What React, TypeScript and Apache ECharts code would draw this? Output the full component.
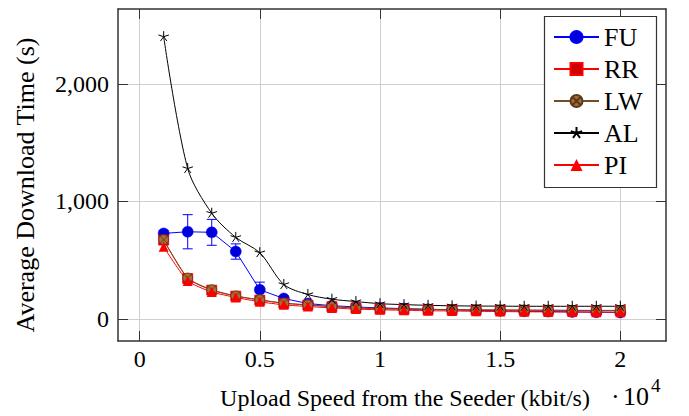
import React, { useEffect, useRef } from "react";
import * as echarts from "echarts";

const xValues = [1000, 2000, 3000, 4000, 5000, 6000, 7000, 8000, 9000, 10000, 11000, 12000, 13000, 14000, 15000, 16000, 17000, 18000, 19000, 20000];
const fuValues = [729, 743, 738, 575, 250, 176, 133, 115, 104, 96, 90, 84, 80, 76, 72, 68, 65, 62, 60, 58];
const fuErrors = [25, 145, 110, 65, 65, 20, 12, 8, 6, 5, 5, 4, 4, 4, 3, 3, 3, 3, 3, 3];
const rrValues = [672, 346, 247, 196, 162, 135, 120, 106, 96, 89, 85, 82, 80, 78, 77, 76, 75, 74, 73, 73];
const lwValues = [675, 350, 250, 198, 165, 137, 122, 108, 98, 91, 87, 84, 82, 80, 79, 78, 77, 76, 75, 75];
const alValues = [2400, 1280, 900, 695, 565, 295, 210, 170, 150, 132, 124, 118, 114, 112, 111, 110, 110, 110, 110, 110];
const piValues = [615, 325, 232, 185, 148, 122, 108, 96, 86, 80, 76, 72, 70, 67, 65, 63, 62, 61, 60, 59];
const xTicks = [0, 5000, 10000, 15000, 20000];
const yTicks = [0, 1000, 2000];
const seriesNames = ["FU", "RR", "LW", "AL", "PI"];

const FONT = '"Liberation Serif", "Times New Roman", serif';
const OTIMES = "path://M10 0 A10 10 0 1 1 10 20 A10 10 0 1 1 10 0 Z M2.93 2.93 L17.07 17.07 M17.07 2.93 L2.93 17.07";
const STAR = "path://M0 0 M20 20 M10 10 L10 0 M10 10 L19.51 6.91 M10 10 L0.49 6.91 M10 10 L4.12 18.09 M10 10 L15.88 18.09";

const pairs = (ys: number[]) => xValues.map((x, i) => [x, ys[i]]);

export default function App() {
  const ref = useRef<HTMLDivElement>(null);
  useEffect(() => {
    if (!ref.current) return;
    const chart = echarts.init(ref.current, null, { renderer: "svg" });
    const frame = "#333333";
    const tickStyle = { show: true, inside: true, length: 10, lineStyle: { color: frame, width: 1 } };
    const commonX = {
      type: "value",
      min: -900,
      max: 21900,
      axisLine: { show: true, onZero: false, lineStyle: { color: frame, width: 1.5 } },
    };
    const commonY = {
      type: "value",
      min: -185,
      max: 2635,
      axisLine: { show: true, onZero: false, lineStyle: { color: frame, width: 1.5 } },
    };
    const option: any = {
      animation: false,
      backgroundColor: "#ffffff",
      grid: { left: 118, right: 23, top: 9, bottom: 75, containLabel: false },
      xAxis: [
        {
          ...commonX,
          position: "bottom",
          axisTick: { ...tickStyle, customValues: xTicks },
          axisLabel: {
            customValues: xTicks,
            margin: 6,
            color: "#000",
            fontFamily: FONT,
            fontSize: 24,
            formatter: (v: number) => String(v / 10000),
          },
          splitLine: { show: true, lineStyle: { color: "#cfcfcf", width: 1 } },
        },
        {
          ...commonX,
          position: "top",
          axisTick: { ...tickStyle, customValues: xTicks },
          axisLabel: { show: false },
          splitLine: { show: false },
        },
      ],
      yAxis: [
        {
          ...commonY,
          position: "left",
          axisTick: { ...tickStyle, customValues: yTicks },
          axisLabel: {
            customValues: yTicks,
            margin: 9,
            color: "#000",
            fontFamily: FONT,
            fontSize: 24,
            formatter: (v: number) => v.toLocaleString("en-US"),
          },
          splitLine: { show: true, lineStyle: { color: "#cfcfcf", width: 1 } },
        },
        {
          ...commonY,
          position: "right",
          axisTick: { ...tickStyle, customValues: yTicks },
          axisLabel: { show: false },
          splitLine: { show: false },
        },
      ],
      legend: {
        data: seriesNames,
        orient: "vertical",
        left: 553,
        top: 24,
        padding: 0,
        itemGap: 6,
        itemWidth: 45,
        itemHeight: 15,
        z: 5,
        textStyle: { fontFamily: FONT, fontSize: 26, color: "#000" },
      },
      graphic: [
        {
          type: "rect",
          z: 3,
          shape: { x: 544.5, y: 16.5, width: 112, height: 171 },
          style: { fill: "#ffffff", stroke: frame, lineWidth: 1.2 },
        },
        {
          type: "text",
          x: 25,
          y: 185,
          rotation: Math.PI / 2,
          style: {
            text: "Average Download Time (s)",
            font: `26px ${FONT}`,
            textAlign: "center",
            textVerticalAlign: "middle",
            fill: "#000",
          },
        },
        {
          type: "text",
          x: 405,
          y: 398,
          style: {
            text: "Upload Speed from the Seeder (kbit/s)",
            font: `24px ${FONT}`,
            textAlign: "center",
            textVerticalAlign: "middle",
            fill: "#000",
          },
        },
        {
          type: "text",
          x: 611,
          y: 396,
          style: { text: "·", font: `26px ${FONT}`, textAlign: "left", textVerticalAlign: "middle", fill: "#000" },
        },
        {
          type: "text",
          x: 623,
          y: 396,
          style: { text: "10", font: `26px ${FONT}`, textAlign: "left", textVerticalAlign: "middle", fill: "#000" },
        },
        {
          type: "text",
          x: 651,
          y: 385,
          style: { text: "4", font: `19px ${FONT}`, textAlign: "left", textVerticalAlign: "middle", fill: "#000" },
        },
      ],
      series: [
        {
          name: "FU-err",
          type: "custom",
          z: 2,
          data: xValues.map((x, i) => [x, fuValues[i], fuErrors[i]]),
          encode: { x: 0, y: 1 },
          renderItem: (params: any, api: any) => {
            const x = api.value(0);
            const y = api.value(1);
            const e = api.value(2);
            const top = api.coord([x, y + e]);
            const bot = api.coord([x, y - e]);
            const w = 5;
            const st = { stroke: "#0000ff", lineWidth: 1 };
            return {
              type: "group",
              children: [
                { type: "line", shape: { x1: top[0], y1: top[1], x2: bot[0], y2: bot[1] }, style: st },
                { type: "line", shape: { x1: top[0] - w, y1: top[1], x2: top[0] + w, y2: top[1] }, style: st },
                { type: "line", shape: { x1: bot[0] - w, y1: bot[1], x2: bot[0] + w, y2: bot[1] }, style: st },
              ],
            };
          },
        },
        {
          name: "FU",
          type: "line",
          data: pairs(fuValues),
          symbol: "circle",
          symbolSize: 11,
          lineStyle: { color: "#0000ff", width: 1 },
          itemStyle: { color: "#0000d8", borderColor: "#0000ff", borderWidth: 0.5 },
        },
        {
          name: "RR",
          type: "line",
          smooth: 0.2,
          data: pairs(rrValues),
          symbol: "rect",
          symbolSize: 10,
          lineStyle: { color: "#ff0000", width: 1 },
          itemStyle: { color: "#d00000", borderColor: "#ff0000", borderWidth: 0.8 },
        },
        {
          name: "LW",
          type: "line",
          smooth: 0.2,
          data: pairs(lwValues),
          symbol: OTIMES,
          symbolSize: 10,
          lineStyle: { color: "#734d26", width: 1 },
          itemStyle: { color: "#a86c38", borderColor: "#5a3a1a", borderWidth: 0.8 },
        },
        {
          name: "AL",
          type: "line",
          smooth: 0.3,
          data: pairs(alValues),
          symbol: STAR,
          symbolSize: 11,
          lineStyle: { color: "#000000", width: 1 },
          itemStyle: { color: "#000000", borderColor: "#000000", borderWidth: 1 },
        },
        {
          name: "PI",
          type: "line",
          smooth: 0.2,
          data: pairs(piValues),
          symbol: "triangle",
          symbolSize: 10,
          lineStyle: { color: "#ff0000", width: 1 },
          itemStyle: { color: "#ff0000" },
        },
      ],
    };
    chart.setOption(option);
    return () => chart.dispose();
  }, []);
  return <div ref={ref} style={{ position: "absolute", left: 0, top: 0, width: 689, height: 416 }} />;
}
